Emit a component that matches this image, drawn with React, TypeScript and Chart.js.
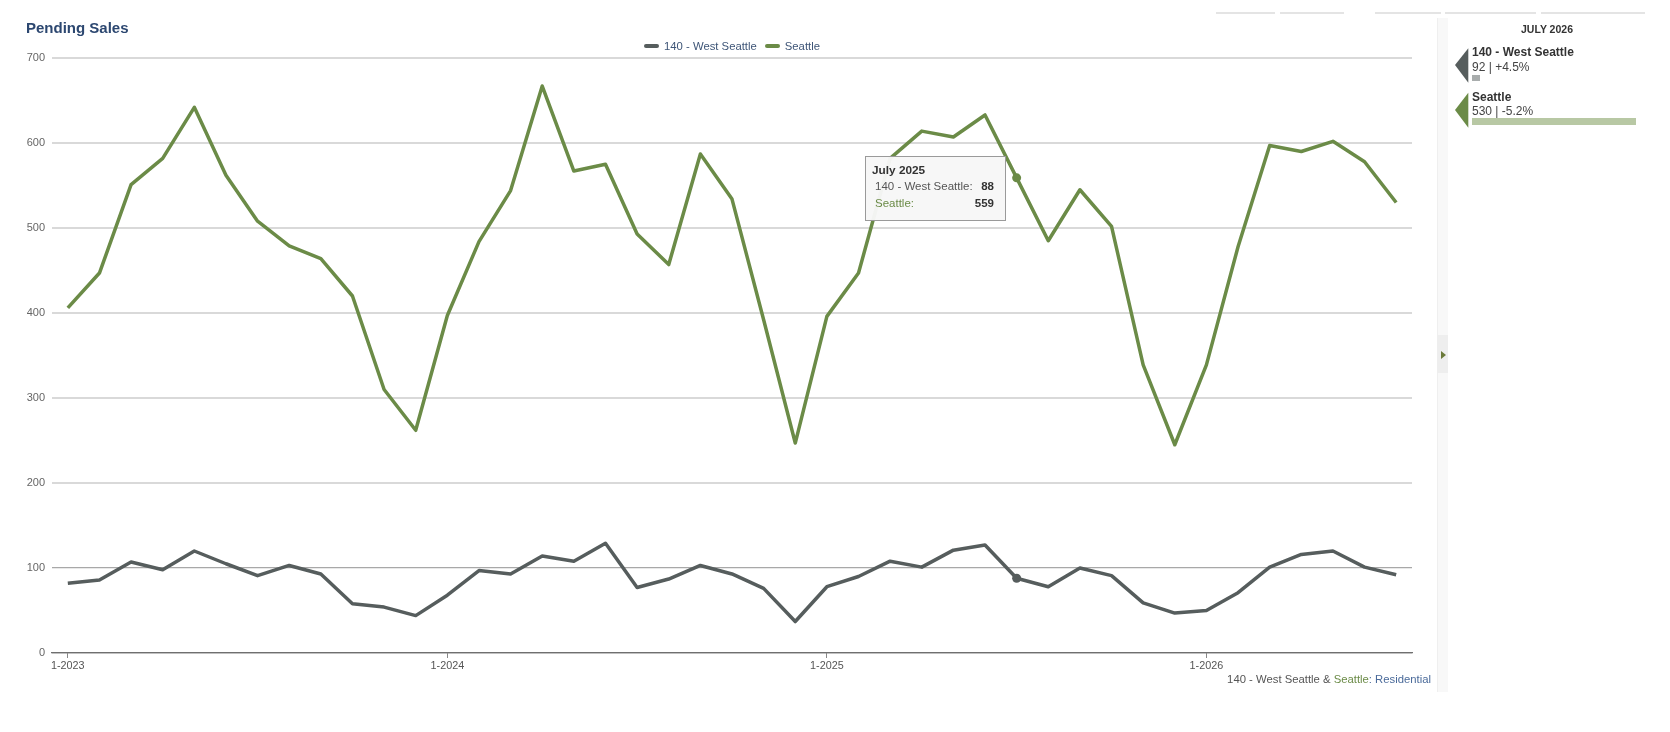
import React, { useEffect, useRef } from "react";
import { Chart, registerables } from "chart.js";

Chart.register(...registerables);

const FONT = '"Liberation Sans", Arial, Helvetica, sans-serif';

const categories = [
  "1-2023", "2-2023", "3-2023", "4-2023", "5-2023", "6-2023", "7-2023", "8-2023", "9-2023", "10-2023", "11-2023", "12-2023",
  "1-2024", "2-2024", "3-2024", "4-2024", "5-2024", "6-2024", "7-2024", "8-2024", "9-2024", "10-2024", "11-2024", "12-2024",
  "1-2025", "2-2025", "3-2025", "4-2025", "5-2025", "6-2025", "7-2025", "8-2025", "9-2025", "10-2025", "11-2025", "12-2025",
  "1-2026", "2-2026", "3-2026", "4-2026", "5-2026", "6-2026", "7-2026",
];

const westSeattle = [
  82, 86, 107, 98, 120, 105, 91, 103, 93, 58, 54, 44,
  68, 97, 93, 114, 108, 129, 77, 87, 103, 93, 76, 37,
  78, 90, 108, 101, 121, 127, 88, 78, 100, 91, 59, 47,
  50, 71, 101, 116, 120, 101, 92,
];

const seattle = [
  406, 447, 551, 582, 642, 562, 508, 479, 464, 420, 310, 262,
  397, 484, 544, 667, 567, 575, 493, 457, 587, 534, 392, 247,
  396, 447, 582, 614, 607, 633, 559, 485, 545, 502, 339, 245,
  339, 478, 597, 590, 602, 578, 530,
];

const yTicks = [0, 100, 200, 300, 400, 500, 600, 700];
const monthNames = ["January", "February", "March", "April", "May", "June", "July", "August", "September", "October", "November", "December"];

const seriesNames = ["140 - West Seattle", "Seattle"];
const hoverIndex = 30; // July 2025

const GRAY = "#565d5d";
const GREEN = "#6b8b47";

const tooltipPlugin = {
  id: "fixedTooltip",
  afterDatasetsDraw(chart: any) {
    const ctx = chart.ctx;
    const x = chart.scales.x.getPixelForValue(hoverIndex);
    const y = chart.scales.y.getPixelForValue(seattle[hoverIndex]);
    const w = 140;
    const h = 64;
    const left = Math.round(x - 12 - w);
    const top = Math.round(y - 22);
    ctx.save();
    ctx.fillStyle = "rgba(247,247,247,0.97)";
    ctx.fillRect(left, top, w, h);
    ctx.strokeStyle = "#9a9a9a";
    ctx.lineWidth = 1;
    ctx.strokeRect(left + 0.5, top + 0.5, w, h);
    const [m, yr] = categories[hoverIndex].split("-");
    ctx.textBaseline = "middle";
    ctx.textAlign = "left";
    ctx.fillStyle = "#333";
    ctx.font = `bold 11.8px ${FONT}`;
    ctx.fillText(`${monthNames[parseInt(m, 10) - 1]} ${yr}`, left + 7, top + 15);
    ctx.font = `11.5px ${FONT}`;
    ctx.fillStyle = "#555";
    ctx.fillText(`${seriesNames[0]}:`, left + 10, top + 31);
    ctx.fillStyle = GREEN;
    ctx.fillText(`${seriesNames[1]}:`, left + 10, top + 48);
    ctx.textAlign = "right";
    ctx.fillStyle = "#333";
    ctx.font = `bold 11.5px ${FONT}`;
    ctx.fillText(String(westSeattle[hoverIndex]), left + w - 11, top + 31);
    ctx.fillText(String(seattle[hoverIndex]), left + w - 11, top + 48);
    ctx.restore();
  },
};

function ChartCanvas() {
  const ref = useRef<HTMLCanvasElement>(null);
  useEffect(() => {
    if (!ref.current) return;
    const chart = new Chart(ref.current, {
      type: "line",
      data: {
        labels: categories,
        datasets: [
          {
            label: seriesNames[0],
            data: westSeattle,
            borderColor: GRAY,
            backgroundColor: GRAY,
            borderWidth: 3.5,
            tension: 0,
            pointRadius: (c: any) => (c.dataIndex === hoverIndex ? 4.5 : 0),
            pointBorderWidth: 0,
            borderJoinStyle: "round",
          },
          {
            label: seriesNames[1],
            data: seattle,
            borderColor: GREEN,
            backgroundColor: GREEN,
            borderWidth: 3.5,
            tension: 0,
            pointRadius: (c: any) => (c.dataIndex === hoverIndex ? 4.5 : 0),
            pointBorderWidth: 0,
            borderJoinStyle: "round",
          },
        ],
      },
      options: {
        responsive: false,
        animation: false,
        events: [],
        layout: { padding: { left: 0, top: 58, right: 28, bottom: 0 } },
        plugins: {
          legend: { display: false },
          tooltip: { enabled: false },
          title: { display: false },
        },
        scales: {
          x: {
            type: "category",
            offset: true,
            grid: {
              display: true,
              offset: false,
              drawOnChartArea: false,
              drawTicks: true,
              tickLength: 5,
              color: "#888",
            },
            border: { display: true, color: "#6f6f6f", width: 1.2 },
            ticks: {
              autoSkip: false,
              maxRotation: 0,
              padding: 2,
              color: "#555",
              font: { family: FONT, size: 10.8 },
              callback: (_v: any, i: number) => (i % 12 === 0 ? categories[i] : null),
            },
            afterFit: (s: any) => {
              s.height = 47;
            },
          },
          y: {
            min: yTicks[0],
            max: yTicks[yTicks.length - 1],
            ticks: {
              stepSize: 100,
              padding: 7,
              color: "#666",
              font: { family: FONT, size: 11 },
            },
            border: { display: false },
            grid: {
              drawTicks: false,
              color: (c: any) => {
                const v = c.tick ? c.tick.value : -1;
                if (v === 0) return "#6f6f6f";
                if (v === 100) return "#a8a8a8";
                return "#d9d9d9";
              },
              lineWidth: (c: any) => {
                const v = c.tick ? c.tick.value : -1;
                return v === 0 || v === 100 ? 1.2 : 2;
              },
            },
            afterFit: (s: any) => {
              s.width = 52;
            },
          },
        },
      },
      plugins: [tooltipPlugin],
    } as any);
    return () => chart.destroy();
  }, []);
  return <canvas ref={ref} width={1440} height={700} style={{ position: "absolute", left: 0, top: 0, width: 1440, height: 700 }} />;
}

const tabSegments = [
  [1216, 59],
  [1280, 64],
  [1375, 66],
  [1445, 91],
  [1541, 104],
];

export default function App() {
  const abs = (s: React.CSSProperties): React.CSSProperties => ({ position: "absolute", ...s });
  return (
    <div style={abs({ left: 0, top: 0, width: 1670, height: 732, background: "#fff", fontFamily: FONT, overflow: "hidden" })}>
      <ChartCanvas />
      <div style={abs({ left: 26, top: 18, lineHeight: "20px", fontSize: 15, fontWeight: "bold", color: "#2c4770", whiteSpace: "nowrap" })}>
        Pending Sales
      </div>
      <div style={abs({ left: 52, width: 1360, top: 38, height: 16, display: "flex", justifyContent: "center", alignItems: "center", fontSize: 11.3, color: "#3e5577", whiteSpace: "nowrap" })}>
        <span style={{ display: "inline-block", width: 15, height: 4, borderRadius: 2, background: GRAY, marginRight: 5 }} />
        <span style={{ marginRight: 8 }}>{seriesNames[0]}</span>
        <span style={{ display: "inline-block", width: 15, height: 4, borderRadius: 2, background: GREEN, marginRight: 5 }} />
        <span>{seriesNames[1]}</span>
      </div>
      <div style={abs({ right: 1670 - 1431, top: 671, lineHeight: "16px", fontSize: 11.3, whiteSpace: "nowrap", color: "#555" })}>
        <span>{seriesNames[0]}</span>
        <span> &amp; </span>
        <span style={{ color: GREEN }}>{seriesNames[1]}</span>
        <span style={{ color: "#4a6a9a" }}>: Residential</span>
      </div>

      {tabSegments.map(([l, w], i) => (
        <div key={i} style={abs({ left: l, top: 12, width: w, height: 2, background: "#e4e4e4" })} />
      ))}

      <div style={abs({ left: 1437, top: 18, width: 10, height: 674, background: "#f8f8f8", borderLeft: "1px solid #efefef" })} />
      <div style={abs({ left: 1437, top: 335, width: 11, height: 38, background: "#eeeeee" })} />
      <svg style={abs({ left: 1437, top: 335, width: 11, height: 38 })} width={11} height={38}>
        <polygon points="4,16 9,20 4,24" fill="#6b7a3a" />
      </svg>

      <div style={abs({ left: 1447, width: 200, top: 21, lineHeight: "16px", textAlign: "center", fontSize: 10.5, fontWeight: "bold", color: "#333" })}>
        JULY 2026
      </div>
      <svg style={abs({ left: 1450, top: 44, width: 22, height: 90 })} width={22} height={90}>
        <polygon points="5,21 18.3,4.3 18.3,38.7" fill={GRAY} />
        <polygon points="5,66 18.3,48.7 18.3,83.7" fill={GREEN} />
      </svg>
      <div style={abs({ left: 1472, top: 44, lineHeight: "16px", fontSize: 12, fontWeight: "bold", color: "#333", whiteSpace: "nowrap" })}>
        {seriesNames[0]}
      </div>
      <div style={abs({ left: 1472, top: 59, lineHeight: "16px", fontSize: 12, color: "#444", whiteSpace: "nowrap" })}>
        {westSeattle[westSeattle.length - 1]} | +4.5%
      </div>
      <div style={abs({ left: 1472, top: 75, width: 8, height: 6, background: "#a9adad" })} />
      <div style={abs({ left: 1472, top: 89, lineHeight: "16px", fontSize: 12, fontWeight: "bold", color: "#333", whiteSpace: "nowrap" })}>
        {seriesNames[1]}
      </div>
      <div style={abs({ left: 1472, top: 103, lineHeight: "16px", fontSize: 12, color: "#444", whiteSpace: "nowrap" })}>
        {seattle[seattle.length - 1]} | -5.2%
      </div>
      <div style={abs({ left: 1472, top: 118, width: 164, height: 7, background: "#b8c8a4" })} />
    </div>
  );
}
